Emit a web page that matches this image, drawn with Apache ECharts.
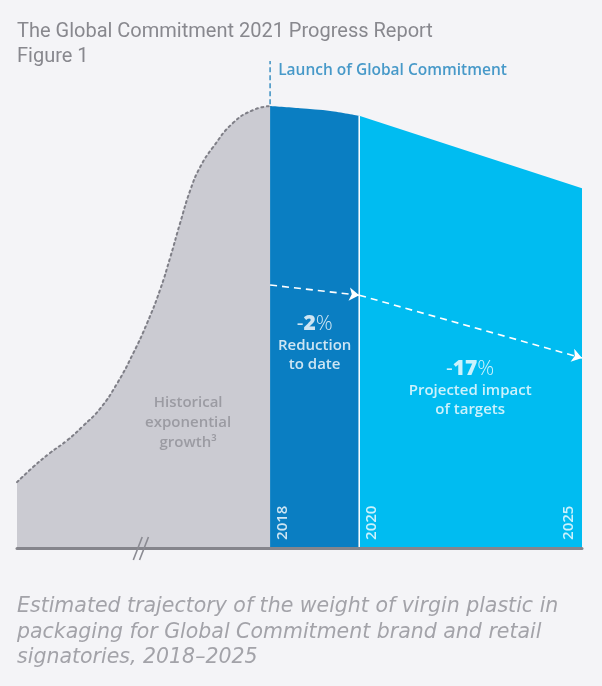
<!DOCTYPE html>
<html><head><meta charset="utf-8">
<style>html,body{margin:0;padding:0;background:#f4f4f7}#c{width:602px;height:686px}</style>
<script src="https://cdn.jsdelivr.net/npm/echarts@6/dist/echarts.min.js"></script>
</head><body><div id="c"></div>
<script>
// ---- data (index: 2018 = 100) ----
const historical = [[2012.32,14.9],[2012.68,18.3],[2013.06,21.5],[2013.45,24.4],[2013.80,27.6],[2014.19,31.6],[2014.57,37.3],[2014.93,44.1],[2015.24,50.9],[2015.53,58.4],[2015.76,65.8],[2015.98,73.5],[2016.21,81.0],[2016.43,86.2],[2016.72,90.7],[2017.17,96.2],[2017.62,99.1],[2018,100]];
const toDate = [[2018,100],[2018.67,99.5],[2019.35,98.9],[2020,97.8]];
const projected = [[2020,97.8],[2025,81.4]];
const yearTicks = [2018, 2020, 2025];
const trendArrows = [[[2018,59.5],[2020,57.2]], [[2020,57.2],[2025,43.0]]];
const launchLine = [[2018,100.4],[2018,110.2]];
const breakMarks = [[[2014.93,-2.7],[2015.13,2.5]], [[2015.07,-2.7],[2015.27,2.5]]];
const launchNote = {pos:[2018,108.1], text:'Launch of Global Commitment'};
const historyNote = {pos:[2016.16,28.3], lines:['Historical','exponential','growth³']};
const toDateNote = {pos:[2019,46.4], value:'2', lines:['Reduction','to date']};
const projNote = {pos:[2022.49,36.2], value:'17', lines:['Projected impact','of targets']};
const titleLines = ['The Global Commitment 2021 Progress Report','Figure 1'];
const captionLines = ['Estimated trajectory of the weight of virgin plastic in','packaging for Global Commitment brand and retail','signatories, 2018–2025'];

const GRAY='#cbcbd2', DARK='#0a7ec2', LIGHT='#00bcf1', BG='#f4f4f7';
const F='"Open Sans", sans-serif';

const chart = echarts.init(document.getElementById('c'), null, {renderer:'canvas'});
const pctRich = {
  m:{color:'#fff',fontFamily:F,fontSize:21,fontWeight:400,lineHeight:24},
  b:{color:'#fff',fontFamily:F,fontSize:21,fontWeight:800,lineHeight:24},
  p:{color:'#fff',fontFamily:F,fontSize:21,fontWeight:300,lineHeight:24},
  t:{color:'#fff',fontFamily:F,fontSize:15,fontWeight:600,lineHeight:19}
};
function pctText(n){ return '{m|-}{b|'+n.value+'}{p|%}\n' + n.lines.map(l=>'{t|'+l+'}').join('\n'); }

chart.setOption({
  animation:false,
  backgroundColor:BG,
  title:[
    {text:titleLines.join('\n'), left:17, top:19, padding:0,
     textStyle:{fontFamily:'Roboto',fontSize:20,fontWeight:400,color:'#88888e',lineHeight:25}},
    {text:captionLines.join('\n'), left:17, top:594, padding:0,
     textStyle:{fontFamily:'"DejaVu Sans", sans-serif',fontStyle:'italic',fontWeight:400,fontSize:20.5,color:'#a3a3a9',lineHeight:25.5}}
  ],
  grid:{left:17,right:20,top:53,bottom:138},
  xAxis:{type:'value',min:2012.32,max:2025,z:5,
    axisLine:{show:true,onZero:true,lineStyle:{color:'#85858c',width:3}},
    axisTick:{show:false},axisLabel:{show:false},splitLine:{show:false}},
  yAxis:{type:'value',min:0,max:112,show:false,splitLine:{show:false}},
  series:[
    {type:'line',data:historical,smooth:0.5,symbol:'none',z:2,
     lineStyle:{type:[2,3.5],width:2,color:'#7f7f87',cap:'round'},
     areaStyle:{color:GRAY,opacity:1}},
    {type:'line',data:toDate,smooth:0.3,symbol:'none',z:2,
     lineStyle:{width:0},areaStyle:{color:DARK,opacity:1}},
    {type:'line',data:projected,symbol:'none',z:2,
     lineStyle:{width:0},areaStyle:{color:LIGHT,opacity:1}},
    {type:'line',data:[[2020,0],[2020,projected[0][1]]],symbol:'none',z:3,
     lineStyle:{color:'#ffffff',width:1.5}},
    {type:'line',data:launchLine,symbol:'none',z:3,
     lineStyle:{color:'#3b8fc2',width:1.5,type:[5,3]}},
    {type:'lines',coordinateSystem:'cartesian2d',z:6,
     data:trendArrows.map(c=>({coords:c})),
     symbol:['none','arrow'],symbolSize:10,
     lineStyle:{color:'#ffffff',width:1.6,type:[7,5],opacity:1,curveness:0}},
    {type:'lines',coordinateSystem:'cartesian2d',z:7,clip:false,
     data:breakMarks.map(c=>({coords:c})),
     lineStyle:{color:'#8a8a92',width:1.6,opacity:1}},
    {type:'scatter',z:8,symbolSize:0.1,itemStyle:{color:'transparent'},silent:true,
     data:yearTicks.map((y,i)=>({value:[y,0],
       label:{show:true,formatter:String(y),rotate:90,align:'left',verticalAlign:'middle',
         position:i===yearTicks.length-1?[-13,-8]:[13,-8],
         color:'#ffffff',fontFamily:F,fontSize:15,fontWeight:600}}))},
    {type:'scatter',z:8,symbolSize:0.1,itemStyle:{color:'transparent'},silent:true,
     data:[
       {value:launchNote.pos,label:{show:true,position:'right',distance:8,formatter:launchNote.text,
         color:'#1c82bd',fontFamily:F,fontSize:15.5,fontWeight:600}},
       {value:historyNote.pos,label:{show:true,position:'inside',align:'center',verticalAlign:'middle',
         formatter:historyNote.lines.join('\n'),color:'#8e8e96',fontFamily:F,fontSize:15,fontWeight:600,lineHeight:20}},
       {value:toDateNote.pos,label:{show:true,position:'inside',align:'center',verticalAlign:'middle',
         formatter:pctText(toDateNote),rich:pctRich}},
       {value:projNote.pos,label:{show:true,position:'inside',align:'center',verticalAlign:'middle',
         formatter:pctText(projNote),rich:pctRich}}
     ]}
  ]
});
</script></body></html>
